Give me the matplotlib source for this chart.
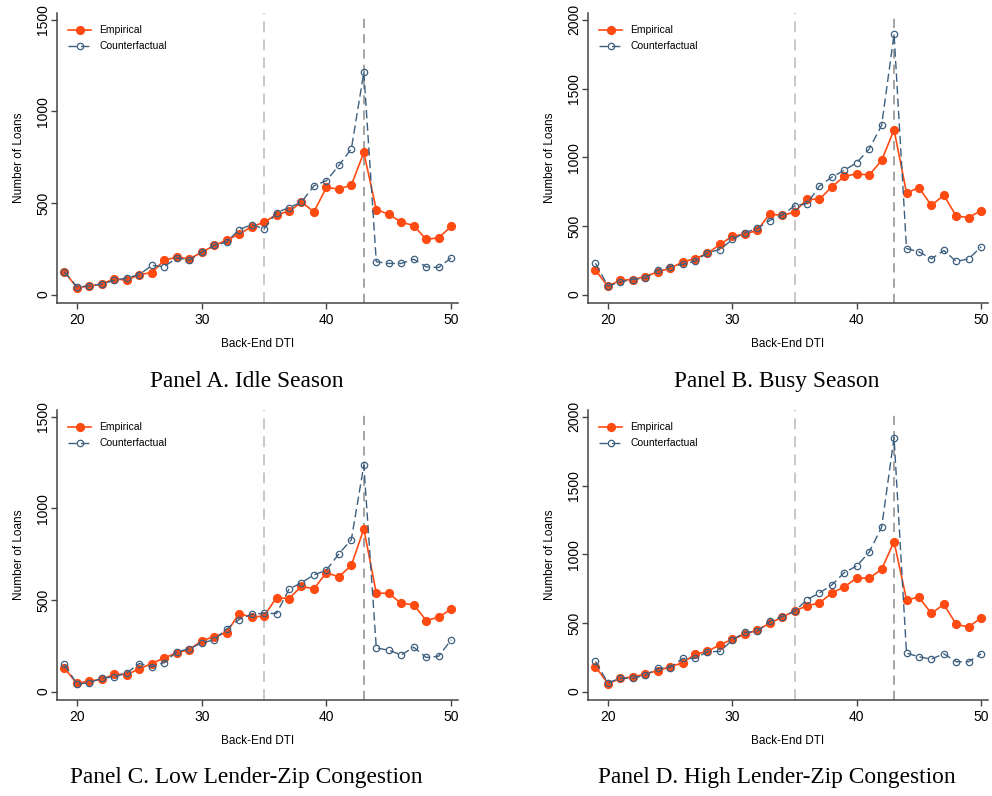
# Bunching of loans around the 43% back-end DTI cutoff, four panels
import matplotlib.pyplot as plt
import numpy as np

dti = np.arange(19, 51)

# Panel A: idle season
emp_a = [124, 38, 46, 58, 86, 78, 109, 120, 188, 204, 195, 230, 268, 297, 330, 370,
         395, 437, 454, 505, 452, 585, 576, 598, 776, 463, 439, 395, 377, 301, 310, 372]
cf_a = [124, 42, 46, 58, 77, 91, 109, 159, 153, 200, 188, 230, 268, 286, 355, 381,
        359, 448, 474, 505, 594, 622, 705, 796, 1214, 179, 170, 170, 193, 151, 148, 200]

# Panel B: busy season
emp_b = [177, 61, 104, 109, 131, 165, 192, 236, 262, 299, 365, 425, 440, 467, 586, 576,
         600, 695, 693, 785, 860, 880, 870, 977, 1200, 741, 778, 649, 724, 571, 561, 612]
cf_b = [228, 61, 92, 109, 119, 177, 202, 219, 243, 304, 328, 401, 450, 481, 539, 578,
        646, 661, 790, 855, 906, 960, 1060, 1232, 1896, 335, 311, 260, 321, 241, 260, 348]

# Panel C: low lender-zip congestion
emp_c = [127, 44, 58, 66, 95, 93, 124, 153, 184, 211, 229, 277, 300, 322, 426, 406,
         413, 513, 508, 575, 561, 650, 626, 690, 888, 537, 537, 481, 475, 388, 406, 450]
cf_c = [149, 40, 49, 73, 80, 102, 153, 135, 158, 217, 233, 266, 282, 342, 393, 422,
        428, 426, 559, 595, 637, 663, 752, 830, 1236, 238, 226, 200, 242, 186, 193, 282]

# Panel D: high lender-zip congestion
emp_d = [182, 58, 95, 107, 127, 153, 180, 209, 272, 292, 341, 380, 416, 448, 496, 543,
         586, 625, 645, 718, 762, 827, 825, 890, 1092, 669, 686, 569, 635, 489, 470, 538]
cf_d = [219, 63, 97, 97, 119, 168, 175, 241, 241, 290, 292, 375, 431, 438, 511, 545,
        584, 669, 718, 776, 866, 915, 1015, 1197, 1849, 280, 253, 236, 275, 217, 217, 275]

titles = ["Panel A. Idle Season", "Panel B. Busy Season",
          "Panel C. Low Lender-Zip Congestion", "Panel D. High Lender-Zip Congestion"]
y_tops = [1500, 2000, 1500, 2000]

EMP_COLOR = "#ff4a12"
CF_COLOR = "#3d5f7f"
AX_COLOR = "#444444"

plt.rcParams["font.family"] = ["Liberation Sans", "DejaVu Sans"]

fig = plt.figure(figsize=(9.92, 7.96), dpi=100)
W, H = 992, 796

# axes boxes in pixels: left, top, right, bottom
boxes = [(57, 13, 458, 303), (588, 13, 988, 303),
         (57, 410, 458, 700), (588, 410, 988, 700)]
series = [(emp_a, cf_a), (emp_b, cf_b), (emp_c, cf_c), (emp_d, cf_d)]

for (l, t, r, b), (emp, cf), title, ytop in zip(boxes, series, titles, y_tops):
    ax = fig.add_axes([l / W, (H - b) / H, (r - l) / W, (b - t) / H])

    ax.axvline(35, color="#c4c4c4", lw=1.3, dashes=(6, 4), zorder=1)
    ax.axvline(43, color="#8c8c8c", lw=1.1, dashes=(6, 4), zorder=1)

    ax.plot(dti, emp, color=EMP_COLOR, lw=1.2, marker="o", ms=5.6,
            mfc=EMP_COLOR, mec=EMP_COLOR, label="Empirical", zorder=3)
    ax.plot(dti, cf, color=CF_COLOR, lw=1.0, dashes=(6, 3), marker="o", ms=4.6,
            mfc="none", mec=CF_COLOR, mew=0.9, label="Counterfactual", zorder=4)

    ax.set_xlim(18.4, 50.55)
    pad = 0.028 * ytop
    ax.set_ylim(-pad * 1.1, ytop + pad * 0.9)
    ax.set_xticks([20, 30, 40, 50])
    ax.set_yticks(np.arange(0, ytop + 1, 500))
    ax.tick_params(axis="x", labelsize=10, length=4, width=1, color=AX_COLOR, pad=3)
    ax.tick_params(axis="y", labelsize=10, length=4, width=1, color=AX_COLOR, pad=1)
    for lab in ax.get_yticklabels():
        lab.set_rotation(90)
        lab.set_va("center")

    for side in ("top", "right"):
        ax.spines[side].set_visible(False)
    for side in ("left", "bottom"):
        ax.spines[side].set_color(AX_COLOR)
        ax.spines[side].set_linewidth(1.1)

    ax.set_xlabel("Back-End DTI", fontsize=8.5, labelpad=8)
    ax.set_ylabel("Number of Loans", fontsize=8.5, labelpad=8)

    ax.legend(loc="upper left", frameon=False, fontsize=7.5,
              handlelength=2.2, handletextpad=0.75, borderaxespad=0.3,
              labelspacing=0.6, bbox_to_anchor=(0.01, 0.983))

    # panel caption below each plot
    fig.text((l + r) / 2 / W - 0.011, (H - b - 78) / H, title,
             ha="center", va="center", fontsize=16.8,
             family=["Liberation Serif", "DejaVu Serif"])

fig.savefig("out.png", dpi=100, facecolor="white")
